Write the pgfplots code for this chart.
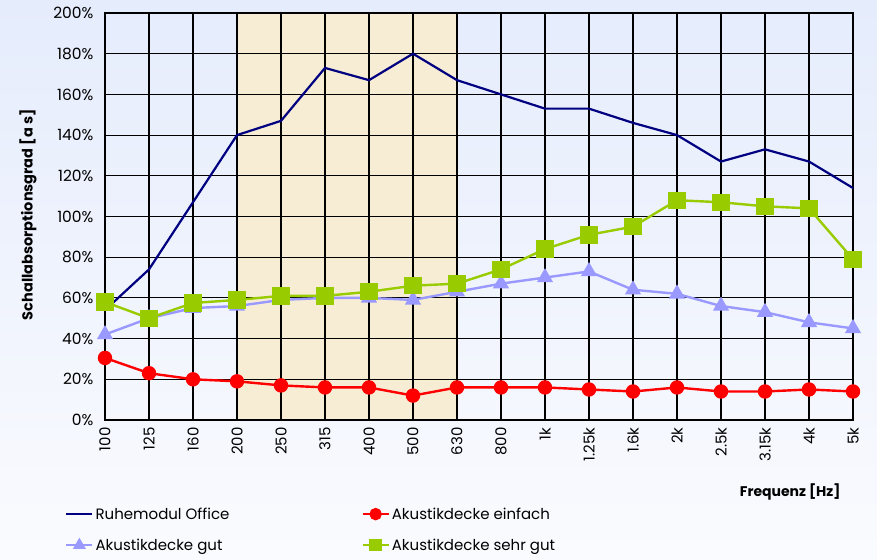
\documentclass[border=0pt]{standalone}
\usepackage{pgfplots}
\pgfplotsset{compat=1.18}
\usepackage{fontspec}
\setmainfont{Poppins}
\definecolor{navyline}{RGB}{0,0,128}
\definecolor{redline}{RGB}{255,0,0}
\definecolor{lavline}{RGB}{153,153,255}
\definecolor{greenline}{RGB}{153,204,0}
\definecolor{beige}{RGB}{247,237,212}
\definecolor{bgtop}{RGB}{229,236,252}
\definecolor{bgbot}{RGB}{250,251,254}
\pgfplotsset{layers/withbg/.define layer set={pagebg,axis background,axis grid,axis ticks,axis lines,axis tick labels,pre main,main,axis descriptions,axis foreground}{}}
\begin{document}
\begin{tikzpicture}
\begin{axis}[
  set layers=withbg,
  at={(105pt,139pt)}, anchor=south west,
  width=748pt, height=407pt, scale only axis,
  xmin=0, xmax=17, ymin=0, ymax=200,
  clip=false,
  xtick={0,...,17},
  xticklabels={100,125,160,200,250,315,400,500,630,800,1k,1.25k,1.6k,2k,2.5k,3.15k,4k,5k},
  xticklabel style={rotate=90, anchor=east, font=\fontsize{15}{17}\selectfont, xshift=-4pt},
  ytick={0,20,...,200},
  yticklabel={\pgfmathprintnumber{\tick}\%},
  yticklabel style={font=\fontsize{15.5}{17}\selectfont, xshift=-8pt},
  /pgf/number format/assume math mode=true,
  major tick length=0pt,
  grid=major,
  grid style={black, line width=1.1pt},
  major grid style={black, line width=1.1pt},
  axis line style={black, line width=2pt},
  xlabel={\bfseries Frequenz [Hz]},
  xlabel style={at={(axis description cs:0.916,-0.177)}, anchor=center, font=\fontsize{14}{16}\selectfont},
  ylabel={\bfseries Schallabsorptionsgrad [a s]},
  ylabel style={at={(axis description cs:-0.103,0.504)}, anchor=center, font=\fontsize{14.5}{16}\selectfont},
  legend columns=2,
  legend style={at={(axis description cs:-0.0575,-0.205)}, anchor=north west, draw=none, fill=none,
    font=\fontsize{15}{17}\selectfont, row sep=14pt,
    /tikz/every even column/.append style={column sep=130pt}},
  legend cell align=left,
  legend image code/.code={\draw[mark repeat=2, mark phase=2, mark size=5pt] plot coordinates {(0pt,0pt) (13pt,0pt) (26pt,0pt)};},
]
\begin{pgfonlayer}{pagebg}
\shade[top color=bgtop,bottom color=bgbot] (rel axis cs:-0.14037,-0.34152) rectangle (rel axis cs:1.03209,1.03194);
\end{pgfonlayer}
\begin{pgfonlayer}{axis background}
\fill[beige] (axis cs:3,0) rectangle (axis cs:8,200);
\end{pgfonlayer}
\addplot[navyline, line width=2.2pt, mark=none] coordinates {
(0,54) (1,74) (2,107) (3,140) (4,147) (5,173) (6,167) (7,180) (8,167) (9,160)
(10,153) (11,153) (12,146) (13,140) (14,127) (15,133) (16,127) (17,114)};
\addlegendentry{Ruhemodul Office}
\addplot[redline, line width=2.4pt, mark=*, mark size=6pt, mark options={fill=redline, draw=redline}] coordinates {
(0,30.5) (1,23) (2,20) (3,19) (4,17) (5,16) (6,16) (7,12) (8,16) (9,16)
(10,16) (11,15) (12,14) (13,16) (14,14) (15,14) (16,15) (17,14)};
\addlegendentry{Akustikdecke einfach}
\addplot[lavline, line width=2.4pt, mark=triangle*, mark size=7pt, mark options={fill=lavline, draw=lavline}] coordinates {
(0,42) (1,50) (2,55) (3,56) (4,59) (5,60) (6,60) (7,59) (8,63) (9,67)
(10,70) (11,73) (12,64) (13,62) (14,56) (15,53) (16,48) (17,45)};
\addlegendentry{Akustikdecke gut}
\addplot[greenline, line width=2.4pt, mark=square*, mark size=7.5pt, mark options={fill=greenline, draw=greenline}] coordinates {
(0,58) (1,50) (2,57.5) (3,59) (4,61) (5,61) (6,63) (7,66) (8,67) (9,74)
(10,84) (11,91) (12,95) (13,108) (14,107) (15,105) (16,104) (17,79)};
\addlegendentry{Akustikdecke sehr gut}
\end{axis}
\end{tikzpicture}
\end{document}
